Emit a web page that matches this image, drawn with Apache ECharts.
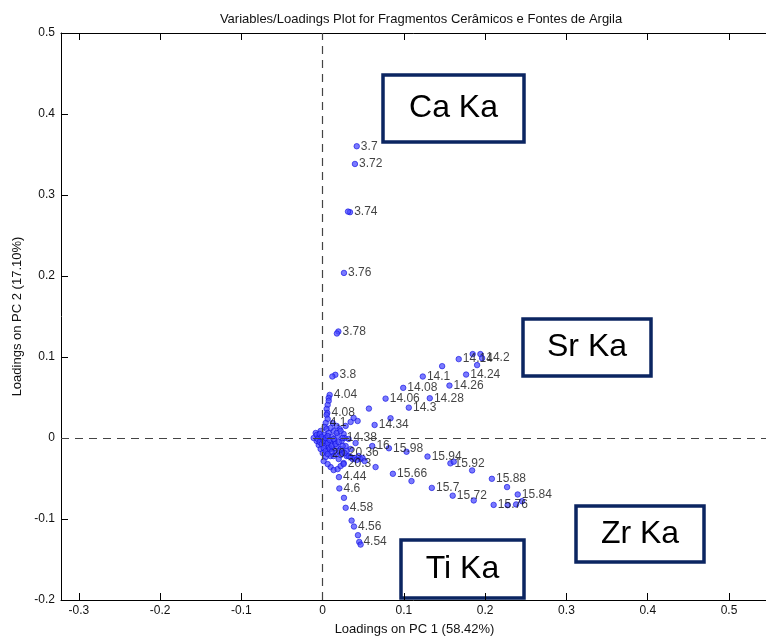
<!DOCTYPE html>
<html>
<head>
<meta charset="utf-8">
<script src="https://cdn.jsdelivr.net/npm/echarts@6/dist/echarts.min.js"></script>
<style>
  html, body { margin: 0; padding: 0; background: #fff; }
  #chart { width: 766px; height: 637px; }
</style>
</head>
<body>
<div id="chart"></div>
<script>
// loadings: [PC1, PC2, label]
const caKa = [
  [0.0419, 0.3602, '3.7'],
  [0.0397, 0.3383, '3.72'],
  [0.0336, 0.2788, '3.74'],
  [0.0312, 0.2795, ''],
  [0.0262, 0.2038, '3.76'],
  [0.0193, 0.1315, '3.78'],
  [0.0175, 0.1290, ''],
  [0.0156, 0.0780, '3.8'],
  [0.0119, 0.0759, '']
]

const tiKa = [
  [0.0086, 0.0532, '4.04'],
  [0.0074, 0.0495, ''],
  [0.0074, 0.0458, ''],
  [0.0061, 0.0408, ''],
  [0.0049, 0.0359, ''],
  [0.0057, 0.0309, '4.08'],
  [0.0049, 0.0285, ''],
  [0.0061, 0.0235, ''],
  [0.0037, 0.0186, '4.1'],
  [0.0025, 0.0136, ''],
  [0.0200, -0.0483, '4.44'],
  [0.0205, -0.0623, '4.6'],
  [0.0262, -0.0739, ''],
  [0.0283, -0.0862, '4.58'],
  [0.0356, -0.1020, ''],
  [0.0385, -0.1093, '4.56'],
  [0.0434, -0.1200, ''],
  [0.0450, -0.1283, '4.54'],
  [0.0467, -0.1316, '']
]

const srKa = [
  [0.0569, 0.0363, ''],
  [0.0639, 0.0161, '14.34'],
  [0.0835, 0.0244, ''],
  [0.0774, 0.0486, '14.06'],
  [0.0991, 0.0619, '14.08'],
  [0.1060, 0.0375, '14.3'],
  [0.1232, 0.0759, '14.1'],
  [0.1318, 0.0491, '14.28'],
  [0.1470, 0.0887, ''],
  [0.1560, 0.0647, '14.26'],
  [0.1674, 0.0974, '14.14'],
  [0.1765, 0.0783, '14.24'],
  [0.1846, 0.1036, ''],
  [0.1941, 0.1036, ''],
  [0.1962, 0.0986, '14.2'],
  [0.1900, 0.0900, ''],
  [0.0381, 0.0248, ''],
  [0.0430, 0.0210, ''],
  [0.0344, 0.0198, ''],
  [0.0283, 0.0149, '']
]

const zrKa = [
  [0.0610, -0.0099, '16'],
  [0.0815, -0.0127, '15.98'],
  [0.1032, -0.0170, ''],
  [0.1290, -0.0229, '15.94'],
  [0.1572, -0.0313, '15.92'],
  [0.1613, -0.0293, ''],
  [0.1839, -0.0400, ''],
  [0.2082, -0.0504, '15.88'],
  [0.2269, -0.0606, ''],
  [0.2400, -0.0697, '15.84'],
  [0.2453, -0.0780, ''],
  [0.2380, -0.0820, ''],
  [0.2276, -0.0829, ''],
  [0.2104, -0.0826, '15.76'],
  [0.1859, -0.0771, ''],
  [0.1600, -0.0712, '15.72'],
  [0.1343, -0.0616, '15.7'],
  [0.1093, -0.0532, ''],
  [0.0864, -0.0442, '15.66'],
  [0.0651, -0.0359, '']
]

const nearOrigin = [
  [-0.0111, 0.0000, ''], [-0.0086, 0.0062, ''], [-0.0074, -0.0037, ''],
  [-0.0049, 0.0012, ''], [-0.0049, -0.0087, ''], [-0.0025, 0.0087, ''],
  [-0.0025, -0.0136, ''], [0.0000, -0.0012, ''], [0.0000, -0.0186, ''],
  [0.0025, 0.0037, ''], [0.0025, -0.0087, ''], [0.0037, -0.0235, ''],
  [0.0049, 0.0111, ''], [0.0049, -0.0037, ''], [0.0061, -0.0161, ''],
  [0.0074, -0.0111, ''], [0.0074, 0.0062, ''], [0.0098, -0.0062, ''],
  [0.0098, -0.0223, ''], [0.0110, 0.0012, ''], [0.0123, -0.0136, ''],
  [0.0135, 0.0087, ''], [0.0147, -0.0037, ''], [0.0160, -0.0186, ''],
  [0.0172, -0.0099, ''], [0.0184, 0.0025, ''], [0.0197, -0.0260, ''],
  [0.0209, 0.0111, ''], [0.0221, -0.0136, ''], [0.0233, -0.0037, ''],
  [0.0246, -0.0186, ''], [0.0258, 0.0050, ''], [0.0283, -0.0099, ''],
  [0.0295, -0.0223, ''], [0.0319, -0.0012, ''], [0.0344, -0.0136, ''],
  [0.0369, -0.0260, ''], [0.0405, -0.0062, ''], [0.0442, -0.0223, ''],
  [0.0467, -0.0260, ''], [0.0491, -0.0248, ''], [0.0516, -0.0285, ''],
  [0.0098, -0.0359, ''], [0.0135, -0.0396, ''], [0.0184, -0.0384, ''],
  [0.0221, -0.0347, ''], [0.0258, -0.0309, ''], [0.0012, -0.0285, ''],
  [0.0061, -0.0322, ''],
  [-0.0074, 0.0037, ''], [-0.0061, -0.0012, ''], [-0.0037, -0.0050, ''],
  [-0.0037, 0.0050, ''], [-0.0012, 0.0012, ''], [-0.0012, -0.0074, ''],
  [0.0012, -0.0037, ''], [0.0012, -0.0124, ''], [0.0037, 0.0000, ''],
  [0.0037, -0.0161, ''], [0.0061, -0.0062, ''], [0.0061, 0.0025, ''],
  [0.0086, -0.0136, ''], [0.0086, -0.0025, ''], [0.0110, -0.0099, ''],
  [0.0110, -0.0173, ''], [0.0135, -0.0012, ''], [0.0135, -0.0223, ''],
  [0.0160, -0.0074, ''], [0.0172, 0.0062, ''], [0.0197, -0.0161, ''],
  [0.0197, -0.0050, ''], [0.0221, -0.0210, ''], [0.0246, -0.0099, ''],
  [0.0270, 0.0000, ''], [0.0295, -0.0161, ''], [0.0319, -0.0223, ''],
  [0.0344, -0.0235, ''], [0.0393, -0.0248, ''], [0.0418, -0.0272, ''],
  [0.0172, 0.0149, ''], [0.0123, 0.0186, ''], [0.0221, 0.0087, ''],
  [0.0098, 0.0124, ''],
  [0.0061, -0.0198, '20'],
  [0.0270, -0.0186, '20.36'],
  [0.0258, -0.0322, '20.3'],
  [0.0246, 0.0000, '14.38']
]

const xTicks = [-0.3, -0.2, -0.1, 0, 0.1, 0.2, 0.3, 0.4, 0.5]
const xMin = -0.322
const xMax = 0.548

const points = [...caKa, ...tiKa, ...srKa, ...zrKa, ...nearOrigin]
  .map(p => ({ value: [p[0], p[1]], name: p[2] }))

const font = 'Liberation Sans'
const ink = '#111'
const boxes = [
  { text: 'Ca Ka', x: 383, y: 75, w: 141, h: 67 },
  { text: 'Sr Ka', x: 523, y: 319, w: 128, h: 57 },
  { text: 'Zr Ka', x: 576, y: 506, w: 128, h: 56 },
  { text: 'Ti Ka', x: 401, y: 540, w: 123, h: 58 }
]

// fresh objects for every axis
const axisLine = () => ({ show: true, onZero: false, lineStyle: { color: '#000', width: 1 } })
const axisTick = extra => ({ show: true, inside: true, length: 7, lineStyle: { color: '#000', width: 1 }, ...extra })

const chart = echarts.init(document.getElementById('chart'))

chart.setOption({
  animation: false,
  backgroundColor: '#fff',
  textStyle: { fontFamily: font },
  title: {
    text: 'Variables/Loadings Plot for Fragmentos Cerâmicos e Fontes de Argila',
    left: 416,
    top: 8,
    textAlign: 'center',
    textStyle: { fontSize: 13, fontWeight: 'normal', color: ink, fontFamily: font }
  },
  grid: { left: 61, right: -2, top: 33, bottom: 37, outerBoundsMode: 'none' },
  xAxis: [
    {
      type: 'value',
      position: 'bottom',
      min: xMin,
      max: xMax,
      name: 'Loadings on PC 1 (58.42%)',
      nameLocation: 'middle',
      nameGap: 23,
      nameTextStyle: { fontSize: 13, color: ink },
      axisLine: axisLine(),
      axisTick: axisTick({ customValues: xTicks }),
      axisLabel: { show: true, customValues: xTicks, color: ink, fontSize: 12, margin: 5 },
      splitLine: { show: false }
    },
    {
      type: 'value',
      position: 'top',
      min: xMin,
      max: xMax,
      axisLine: axisLine(),
      axisTick: axisTick({ customValues: xTicks }),
      axisLabel: { show: false },
      splitLine: { show: false }
    }
  ],
  yAxis: [
    {
      type: 'value',
      position: 'left',
      min: -0.2,
      max: 0.5,
      interval: 0.1,
      name: 'Loadings on PC 2 (17.10%)',
      nameLocation: 'middle',
      nameGap: 32,
      nameTextStyle: { fontSize: 13, color: ink },
      axisLine: axisLine(),
      axisTick: axisTick({}),
      axisLabel: { show: true, color: ink, fontSize: 12, margin: 6 },
      splitLine: { show: false }
    }
  ],
  series: [
    {
      type: 'scatter',
      data: points,
      symbolSize: 5.5,
      itemStyle: { color: 'rgba(70, 70, 255, 0.9)', borderColor: '#1010e0', borderWidth: 0.8 },
      label: {
        show: true,
        position: 'right',
        distance: 1,
        formatter: '{b}',
        color: ink,
        fontSize: 12
      },
      markLine: {
        silent: true,
        symbol: 'none',
        label: { show: false },
        lineStyle: { color: '#444', type: [8, 6], width: 1.2 },
        data: [{ xAxis: 0 }, { yAxis: 0 }]
      },
      z: 3
    }
  ],
  graphic: boxes.map(b => ({
    type: 'group',
    z: 100,
    children: [
      {
        type: 'rect',
        shape: { x: b.x, y: b.y, width: b.w, height: b.h },
        style: { fill: '#fff', stroke: '#0b2561', lineWidth: 3.5 }
      },
      {
        type: 'text',
        x: b.x + b.w / 2,
        y: b.y + b.h / 2,
        style: {
          text: b.text,
          font: '32px ' + font,
          fill: '#000',
          align: 'center',
          verticalAlign: 'middle'
        }
      }
    ]
  }))
})
</script>
</body>
</html>
